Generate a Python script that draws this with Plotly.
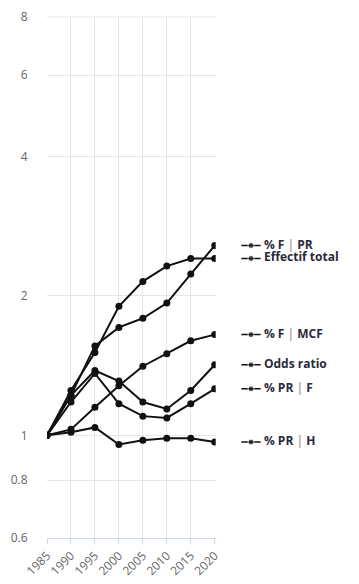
import numpy as np
import plotly.graph_objects as go

years = [1985, 1990, 1995, 2000, 2005, 2010, 2015, 2020]

names = ['% F | PR', 'Effectif total', '% F | MCF', 'Odds ratio', '% PR | F', '% PR | H']

f_pr = [1, 1.22, 1.56, 1.71, 1.79, 1.93, 2.23, 2.57]
effectif = [1, 1.25, 1.51, 1.90, 2.15, 2.32, 2.41, 2.41]
f_mcf = [1, 1.03, 1.15, 1.28, 1.41, 1.50, 1.60, 1.65]
odds = [1, 1.22, 1.38, 1.31, 1.18, 1.14, 1.25, 1.42]
pr_f = [1, 1.18, 1.36, 1.17, 1.10, 1.09, 1.17, 1.26]
pr_h = [1, 1.015, 1.04, 0.955, 0.976, 0.985, 0.985, 0.967]

series = [f_pr, effectif, f_mcf, odds, pr_f, pr_h]

y_ticks = [0.6, 0.8, 1, 2, 4, 6, 8]


def label(name):
    # bold label, the "|" drawn lighter
    parts = name.split('|')
    return ' <b>' + '<span style="color:#aaaaaa">|</span>'.join(parts) + '</b>'


fig = go.Figure()

for name, vals in zip(names, series):
    fig.add_trace(go.Scatter(
        x=years, y=vals, mode='lines+markers', name=name,
        line=dict(color='#111111', width=2),
        marker=dict(color='#111111', size=7),
        showlegend=False, xaxis='x', yaxis='y'))
    # label at the end of the line: small line-dot-line symbol + text
    last = vals[-1]
    fig.add_trace(go.Scatter(
        x=[0, 1, 2], y=[last, last, last], mode='lines+markers+text',
        text=['', '', label(name)], textposition='middle right',
        textfont=dict(family='Open Sans, sans-serif', size=12, color='#2a2a3a'),
        line=dict(color='#111111', width=1.5),
        marker=dict(color='#111111', size=[0, 6, 0]),
        cliponaxis=False, showlegend=False, xaxis='x2', yaxis='y2'))

# top grid line (plotly drops the one sitting on the plot edge)
fig.add_shape(type='line', xref='x domain', yref='paper', x0=0, x1=1, y0=1, y1=1,
              line=dict(color='#e6e6e6', width=1), layer='below')

# the page body has an 8px margin, so the figure is set 8px smaller
fig.update_layout(
    width=351, height=576,
    margin=dict(l=39, r=0, t=4, b=46),
    paper_bgcolor='white', plot_bgcolor='white',
    font=dict(family='Open Sans, sans-serif', size=12, color='#666666'),
    xaxis=dict(
        domain=[0, 172 / 312], range=[1985, 2020.2],
        tickvals=years, tickangle=-45,
        showgrid=True, gridcolor='#e6e6e6', gridwidth=1,
        showline=True, linecolor='#ccd6eb', linewidth=1,
        ticks='outside', ticklen=5, tickcolor='#ccd6eb',
        zeroline=False, fixedrange=True),
    yaxis=dict(
        type='log', range=[np.log10(0.6), np.log10(8) + 0.0005],
        tickvals=y_ticks, ticktext=[str(v) for v in y_ticks],
        ticklabeloverflow='allow',
        showgrid=True, gridcolor='#e6e6e6', gridwidth=1,
        ticks='outside', ticklen=16, tickcolor='rgba(0,0,0,0)',
        zeroline=False, showline=False),
    xaxis2=dict(domain=[198 / 312, 218 / 312], range=[0, 2], visible=False, anchor='y2'),
    yaxis2=dict(type='log', matches='y', anchor='x2', visible=False),
)

fig.write_html('out.html')
